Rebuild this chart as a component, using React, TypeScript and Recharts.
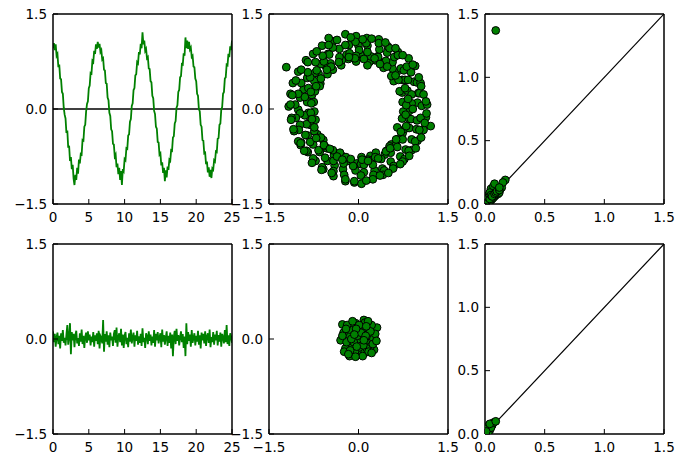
import React from "react";
import { ComposedChart, Line, Scatter, XAxis, YAxis, ReferenceLine } from "recharts";

// noisy cosine, sampled evenly over 0..25
const waveY = [
  0.96, 1.04, 0.93, 1.02, 0.84, 0.87, 0.66, 0.7, 0.48, 0.47,
  0.27, 0.24, 0.02, -0.09, -0.15, -0.38, -0.34, -0.61, -0.58, -0.82,
  -0.76, -0.95, -0.88, -1.1, -1.2, -1.04, -1.12, -0.93, -1.02, -0.8,
  -0.86, -0.71, -0.72, -0.49, -0.5, -0.28, -0.25, -0.04, 0.08, 0.12,
  0.33, 0.37, 0.57, 0.56, 0.76, 0.74, 0.92, 0.87, 1.02, 0.95,
  1.06, 0.97, 1.03, 0.9, 0.93, 0.78, 0.8, 0.62, 0.61, 0.41,
  0.4, 0.18, 0.14, -0.06, -0.11, -0.32, -0.35, -0.55, -0.56, -0.75,
  -0.72, -0.92, -0.86, -1.03, -0.93, -1.12, -0.98, -1.2, -0.95, -0.98,
  -0.79, -0.81, -0.62, -0.63, -0.42, -0.4, -0.2, -0.16, 0.05, 0.09,
  0.3, 0.33, 0.53, 0.55, 0.74, 0.72, 0.9, 0.86, 1.03, 0.96,
  1.21, 1.02, 1.08, 0.92, 0.95, 0.8, 0.82, 0.64, 0.63, 0.44,
  0.42, 0.21, 0.17, -0.03, -0.08, -0.28, -0.31, -0.52, -0.53, -0.72,
  -0.7, -0.89, -0.84, -1.01, -0.93, -1.14, -0.97, -1.08, -0.91, -0.96,
  -0.8, -0.82, -0.65, -0.66, -0.45, -0.43, -0.23, -0.19, 0.02, 0.06,
  0.27, 0.3, 0.5, 0.52, 0.71, 0.7, 0.88, 0.84, 1.13, 0.96,
  1.08, 0.95, 1.06, 0.94, 0.97, 0.82, 0.84, 0.67, 0.66, 0.48,
  0.44, 0.24, 0.21, 0.0, -0.04, -0.25, -0.28, -0.49, -0.5, -0.7,
  -0.69, -0.87, -0.83, -1.0, -0.92, -1.07, -0.96, -1.09, -0.94, -0.96,
  -0.81, -0.83, -0.67, -0.68, -0.47, -0.46, -0.25, -0.23, -0.01, 0.03,
  0.24, 0.27, 0.48, 0.5, 0.7, 0.69, 0.87, 0.82, 0.99, 0.93,
  1.08,
];

// residual noise, same sampling
const noiseY = [
  0.12, -0.05, 0.08, -0.12, 0.03, 0.1, -0.08, 0.05, -0.15, 0.09,
  -0.03, 0.14, -0.06, 0.02, -0.1, 0.07, 0.22, -0.09, 0.04, 0.25,
  -0.24, 0.11, -0.02, 0.08, -0.13, 0.06, 0.13, -0.07, 0.01, -0.11,
  0.09, -0.04, 0.15, -0.08, 0.05, -0.14, 0.03, 0.1, -0.06, 0.12,
  -0.02, 0.07, -0.1, 0.04, -0.05, 0.11, -0.12, 0.06, -0.03, 0.09,
  -0.08, 0.13, -0.15, 0.05, 0.02, -0.07, 0.3, -0.2, 0.08, -0.04,
  0.12, -0.09, 0.06, -0.13, 0.1, -0.02, 0.04, -0.11, 0.08, 0.14,
  -0.06, 0.18, -0.12, 0.03, 0.09, -0.05, 0.16, -0.1, 0.07, -0.14,
  0.05, 0.11, -0.08, 0.02, -0.13, 0.09, -0.04, 0.15, -0.07, 0.03,
  0.1, -0.12, 0.06, -0.03, 0.13, -0.09, 0.04, -0.06, 0.08, -0.11,
  0.17, -0.05, 0.02, -0.14, 0.09, 0.05, -0.08, 0.12, -0.03, 0.07,
  -0.1, 0.04, -0.06, 0.14, -0.12, 0.08, -0.02, 0.11, -0.07, 0.03,
  0.09, -0.13, 0.15, -0.04, 0.06, -0.09, 0.02, 0.12, -0.11, 0.05,
  -0.06, 0.1, -0.15, 0.07, -0.27, 0.04, 0.13, -0.08, 0.16, -0.03,
  0.06, -0.1, 0.03, 0.12, -0.05, 0.08, -0.14, 0.04, -0.27, 0.25,
  -0.08, 0.11, -0.03, 0.07, -0.12, 0.14, -0.06, 0.02, 0.09, -0.1,
  0.05, -0.04, 0.13, -0.09, 0.06, -0.15, 0.1, -0.02, 0.08, -0.07,
  0.12, -0.11, 0.04, 0.09, -0.06, 0.15, -0.13, 0.03, -0.05, 0.11,
  -0.09, 0.07, -0.02, 0.13, -0.1, 0.06, -0.04, 0.1, -0.12, 0.08,
  0.03, -0.07, 0.14, -0.05, 0.22, -0.08, 0.06, -0.11, 0.09, 0.04,
  -0.06,
];

// phase plot of the noisy signal: a ring
const ring: [number, number][] = [
  [0.85, -0.03], [0.74, 0.11], [0.81, 0.07], [0.73, 0.26], [0.82, 0.29], [0.69, 0.28],
  [0.73, 0.46], [0.59, 0.44], [0.64, 0.58], [0.55, 0.52], [0.57, 0.64], [0.41, 0.73],
  [0.42, 0.65], [0.28, 0.77], [0.32, 0.83], [0.18, 0.74], [0.21, 0.83], [0.03, 0.86],
  [-0.05, 0.83], [-0.04, 0.75], [-0.2, 0.86], [-0.17, 0.79], [-0.29, 0.69], [-0.28, 0.77],
  [-0.47, 0.72], [-0.43, 0.62], [-0.55, 0.68], [-0.52, 0.55], [-0.67, 0.56], [-0.64, 0.4],
  [-0.74, 0.44], [-0.65, 0.36], [-0.78, 0.22], [-0.73, 0.28], [-0.86, 0.11], [-0.75, 0.11],
  [-0.84, -0.06], [-0.74, -0.04], [-0.82, -0.21], [-0.72, -0.17], [-0.81, -0.25], [-0.69, -0.4],
  [-0.74, -0.35], [-0.59, -0.49], [-0.63, -0.45], [-0.53, -0.62], [-0.57, -0.58], [-0.41, -0.73],
  [-0.43, -0.65], [-0.28, -0.74], [-0.31, -0.69], [-0.18, -0.82], [-0.21, -0.76], [-0.03, -0.86],
  [0.05, -0.76], [0.04, -0.87], [0.2, -0.74], [0.16, -0.8], [0.29, -0.69], [0.28, -0.76],
  [0.47, -0.66], [0.44, -0.72], [0.55, -0.56], [0.52, -0.59], [0.67, -0.47], [0.63, -0.53],
  [0.74, -0.38], [0.65, -0.29], [0.78, -0.31], [0.73, -0.15], [0.85, -0.16], [0.75, -0.04],
  [0.99, 0.1], [0.89, 0.09], [1.0, 0.25], [0.89, 0.23], [0.93, 0.43], [0.78, 0.46],
  [0.83, 0.46], [0.71, 0.64], [0.76, 0.61], [0.57, 0.74], [0.6, 0.82], [0.46, 0.76],
  [0.48, 0.89], [0.33, 0.82], [0.35, 0.94], [0.15, 1.0], [0.15, 0.9], [0.0, 1.0],
  [0.01, 0.93], [-0.16, 1.01], [-0.15, 0.88], [-0.32, 0.95], [-0.32, 0.82], [-0.51, 0.87],
  [-0.49, 0.86], [-0.63, 0.71], [-0.58, 0.75], [-0.73, 0.57], [-0.7, 0.61], [-0.86, 0.49],
  [-0.81, 0.5], [-0.92, 0.31], [-0.84, 0.33], [-0.98, 0.18], [-0.9, 0.19], [-1.01, -0.01],
  [-0.9, -0.1], [-0.98, -0.07], [-0.87, -0.24], [-0.98, -0.25], [-0.85, -0.42], [-0.89, -0.41],
  [-0.76, -0.56], [-0.81, -0.52], [-0.65, -0.68], [-0.67, -0.65], [-0.52, -0.82], [-0.56, -0.77],
  [-0.4, -0.89], [-0.42, -0.82], [-0.26, -0.95], [-0.25, -0.86], [-0.05, -0.97], [-0.09, -0.9],
  [0.09, -1.0], [0.09, -0.88], [0.27, -0.97], [0.24, -0.88], [0.4, -0.94], [0.38, -0.79],
  [0.54, -0.83], [0.54, -0.69], [0.7, -0.75], [0.65, -0.6], [0.79, -0.64], [0.74, -0.48],
  [0.89, -0.48], [0.85, -0.3], [0.97, -0.32], [0.88, -0.16], [0.98, -0.18], [0.91, 0.0],
  [1.06, 0.05], [1.15, 0.07], [1.02, 0.25], [1.09, 0.23], [0.98, 0.42], [1.04, 0.41],
  [0.88, 0.58], [0.95, 0.68], [0.81, 0.67], [0.84, 0.8], [0.66, 0.9], [0.66, 0.85],
  [0.49, 0.99], [0.52, 0.96], [0.34, 1.1], [0.34, 1.04], [0.14, 1.12], [0.13, 1.04],
  [-0.04, 1.15], [-0.05, 1.06], [-0.22, 1.18], [-0.22, 1.01], [-0.43, 1.07], [-0.43, 0.97],
  [-0.61, 1.0], [-0.6, 0.84], [-0.76, 0.87], [-0.72, 0.74], [-0.88, 0.77], [-0.85, 0.58],
  [-1.01, 0.59], [-0.96, 0.41], [-1.1, 0.41], [-1.01, 0.24], [-1.14, 0.24], [-1.06, 0.07],
  [-1.17, 0.04], [-1.05, -0.14], [-1.12, -0.14], [-1.0, -0.33], [-1.08, -0.35], [-0.96, -0.53],
  [-1.01, -0.51], [-0.85, -0.68], [-0.87, -0.66], [-0.72, -0.82], [-0.76, -0.78], [-0.59, -0.95],
  [-0.61, -0.92], [-0.42, -1.06], [-0.42, -0.98], [-0.22, -1.14], [-0.24, -1.04], [-0.07, -1.16],
  [0.04, -1.05], [0.05, -1.18], [0.25, -1.04], [0.24, -1.11], [0.43, -0.97], [0.41, -1.04],
  [0.59, -0.9], [0.58, -0.94], [0.77, -0.79], [0.74, -0.83], [0.89, -0.65], [0.84, -0.66],
  [0.99, -0.5], [0.95, -0.51], [1.09, -0.33], [1.02, -0.33], [1.13, -0.13], [1.04, -0.14],
  [-1.21, 0.66], [1.21, -0.27], [-0.97, -0.57], [-0.04, 0.84], [0.15, 0.69], [-0.5, 1.12],
  [0.8, 0.06], [1.13, 0.12], [0.83, 0.16], [1.05, 0.36], [0.78, 0.33], [1.01, 0.5],
  [0.67, 0.46], [0.91, 0.7], [0.62, 0.53], [0.74, 0.85], [0.48, 0.67], [0.62, 0.96],
  [0.36, 0.71], [0.45, 1.05], [0.27, 0.8], [0.22, 1.11], [0.09, 0.79], [0.07, 1.1],
  [-0.06, 0.8], [-0.13, 1.13], [-0.16, 0.82], [-0.36, 1.09], [-0.33, 0.74], [-0.5, 1.01],
  [-0.46, 0.67], [-0.7, 0.91], [-0.53, 0.62], [-0.85, 0.74], [-0.63, 0.48], [-0.96, 0.62],
  [-0.71, 0.36], [-1.05, 0.45], [-0.8, 0.27], [-1.11, 0.22], [-0.79, 0.09], [-1.14, 0.07],
  [-0.8, -0.06], [-1.13, -0.17], [-0.78, -0.16], [-1.09, -0.32], [-0.74, -0.29], [-0.97, -0.54],
  [-0.71, -0.46], [-0.91, -0.66], [-0.58, -0.57], [-0.78, -0.85], [-0.48, -0.63], [-0.62, -0.96],
  [-0.36, -0.75], [-0.45, -1.01], [-0.27, -0.8], [-0.22, -1.11], [-0.13, -0.79], [-0.07, -1.14],
  [0.06, -0.8], [0.13, -1.13], [0.16, -0.82], [0.36, -1.05], [0.33, -0.78], [0.5, -1.01],
  [0.46, -0.67], [0.7, -0.87], [0.53, -0.62], [0.85, -0.74], [0.63, -0.48], [0.96, -0.62],
  [0.71, -0.36], [1.05, -0.45], [0.8, -0.27], [1.11, -0.22], [0.79, -0.09], [1.14, -0.07],
];

// phase plot of the residual: a blob at the origin
const blob: [number, number][] = [
  [-0.27, 0.23], [0.09, 0.3], [0.31, 0.18], [0.26, -0.17], [-0.15, -0.27], [-0.3, -0.02],
  [0.0, 0.0], [0.05, 0.08], [-0.08, 0.12], [0.12, -0.05], [-0.1, -0.1], [0.18, 0.05],
  [-0.18, 0.08], [0.02, -0.15], [0.08, 0.2], [-0.05, 0.25], [0.2, -0.12], [-0.22, -0.15],
  [0.15, 0.15], [-0.12, 0.2], [0.03, -0.25], [0.22, 0.22], [-0.25, 0.1], [0.1, -0.22],
  [-0.06, -0.2], [0.25, 0.0], [-0.2, -0.05], [0.06, 0.14], [-0.02, 0.05], [0.14, -0.15],
  [-0.15, 0.15], [0.0, 0.18], [0.28, 0.08], [-0.08, -0.05], [0.08, -0.1], [-0.12, 0.0],
  [0.17, -0.2], [-0.03, -0.12], [0.11, 0.26], [-0.19, 0.22], [0.04, 0.1], [-0.24, -0.2],
  [0.2, 0.12], [-0.1, 0.28], [0.07, -0.27], [0.24, -0.08], [-0.27, 0.05], [0.12, 0.05],
  [-0.05, -0.28], [0.16, 0.28], [-0.14, -0.18], [0.01, 0.22], [0.22, -0.22], [-0.21, 0.16],
  [0.09, -0.02], [-0.04, 0.16], [0.3, -0.03], [-0.17, -0.24], [0.13, 0.2], [-0.07, 0.07],
];

// scale comparison, top row
const compareTop: [number, number][] = [
  [0.0, 0.0], [0.01, 0.0], [0.01, 0.01], [0.02, 0.0], [0.02, 0.02], [0.03, 0.01],
  [0.03, 0.03], [0.04, 0.02], [0.04, 0.05], [0.05, 0.03], [0.05, 0.05], [0.06, 0.04],
  [0.06, 0.07], [0.07, 0.05], [0.07, 0.08], [0.08, 0.06], [0.08, 0.09], [0.09, 0.07],
  [0.09, 0.1], [0.1, 0.09], [0.1, 0.12], [0.11, 0.08], [0.11, 0.1], [0.12, 0.09],
  [0.13, 0.12], [0.14, 0.13], [0.06, 0.1], [0.05, 0.12], [0.07, 0.14], [0.03, 0.07],
  [0.02, 0.05], [0.04, 0.09], [0.01, 0.04], [0.02, 0.03], [0.03, 0.05], [0.04, 0.04],
  [0.05, 0.07], [0.06, 0.06], [0.08, 0.08], [0.09, 0.09], [0.1, 0.1], [0.12, 0.11],
  [0.09, 1.37], [0.08, 0.16], [0.17, 0.19], [0.15, 0.17], [0.12, 0.13],
];

// scale comparison, bottom row
const compareBottom: [number, number][] = [
  [0.02, 0.06], [0.01, 0.03], [0.03, 0.04], [0.02, 0.02], [0.01, 0.01], [0.0, 0.0],
  [0.03, 0.05], [0.05, 0.06], [0.04, 0.03], [0.06, 0.07], [0.01, 0.05], [0.02, 0.04],
  [0.0, 0.02], [0.03, 0.02], [0.05, 0.05], [0.0, 0.04], [0.01, 0.02],
  [0.07, 0.09], [0.04, 0.08], [0.09, 0.1],
];

const diagonal = [0, 1.5];

const timeTicks = [0, 5, 10, 15, 20, 25];
const signalTicks = [-1.5, 0, 1.5];
const scaleTicks = [0, 0.5, 1, 1.5];

const GREEN = "#008000";
const PAD = { top: 10, right: 12, bottom: 26, left: 50 };
// axes get 1px of room each, so the plot box lands exactly on PAD
const MARGIN = { top: PAD.top - 1, right: PAD.right - 1, bottom: PAD.bottom - 1, left: PAD.left - 1 };
const PW = 179;
const PH = 190;
const COLS = [53, 269, 485];
const ROWS = [14, 244];

const toRows = (ys: number[]) =>
  ys.map((y, i) => ({ x: (i * 25) / (ys.length - 1), y }));
const pairRows = (pts: [number, number][]) => pts.map(([x, y]) => ({ x, y }));
const diagRows = diagonal.map((v) => ({ x: v, y: v }));

const decimal = (v: number) => (v < 0 ? "\u2212" : "") + Math.abs(v).toFixed(1);
const whole = (v: number) => String(v);

const tickFont = { fill: "#000", fontSize: 13.5, fontFamily: "DejaVu Sans" };
const frame = { stroke: "#000", strokeWidth: 1.5 };
const tickLn = { stroke: "#000", strokeWidth: 1 };

const dot = (p: any) => (
  <circle cx={p.cx} cy={p.cy} r={3.9} fill={GREEN} stroke="#000" strokeWidth={1} />
);

interface PanelProps {
  col: number;
  row: number;
  xDomain: [number, number];
  xTicks: number[];
  xFmt: (v: number) => string;
  yTicks: number[];
  children: React.ReactNode;
}

function Panel({ col, row, xDomain, xTicks, xFmt, yTicks, children }: PanelProps) {
  const yDomain: [number, number] = [yTicks[0], yTicks[yTicks.length - 1]];
  return (
    <div style={{ position: "absolute", left: COLS[col] - PAD.left, top: ROWS[row] - PAD.top }}>
      <ComposedChart width={PW + PAD.left + PAD.right} height={PH + PAD.top + PAD.bottom} margin={MARGIN}>
        {children}
        <XAxis xAxisId="b" orientation="bottom" type="number" dataKey="x" domain={xDomain}
          allowDataOverflow ticks={xTicks} interval={0} tickFormatter={xFmt} height={1}
          tickSize={-5} tickMargin={13} tick={tickFont} axisLine={frame} tickLine={tickLn} />
        <XAxis xAxisId="t" orientation="top" type="number" dataKey="x" domain={xDomain}
          allowDataOverflow ticks={xTicks} interval={0} height={1}
          tickSize={-5} tick={false} axisLine={frame} tickLine={tickLn} />
        <YAxis yAxisId="l" orientation="left" type="number" domain={yDomain}
          allowDataOverflow ticks={yTicks} interval={0} tickFormatter={decimal} width={1}
          tickSize={-5} tickMargin={11} tick={tickFont} axisLine={frame} tickLine={tickLn} />
        <YAxis yAxisId="r" orientation="right" type="number" domain={yDomain}
          allowDataOverflow ticks={yTicks} interval={0} width={1}
          tickSize={-5} tick={false} axisLine={frame} tickLine={tickLn} />
      </ComposedChart>
    </div>
  );
}

function SignalPanel({ row, ys }: { row: number; ys: number[] }) {
  return (
    <Panel col={0} row={row} xDomain={[0, 25]} xTicks={timeTicks} xFmt={whole} yTicks={signalTicks}>
      <ReferenceLine xAxisId="b" yAxisId="l" y={0} stroke="#000" strokeWidth={1.5} />
      <Line xAxisId="b" yAxisId="l" data={toRows(ys)} dataKey="y" stroke={GREEN}
        strokeWidth={1.8} dot={false} isAnimationActive={false} />
    </Panel>
  );
}

function PhasePanel({ row, pts }: { row: number; pts: [number, number][] }) {
  return (
    <Panel col={1} row={row} xDomain={[-1.5, 1.5]} xTicks={signalTicks} xFmt={decimal} yTicks={signalTicks}>
      <Scatter xAxisId="b" yAxisId="l" data={pairRows(pts)} dataKey="y" shape={dot}
        isAnimationActive={false} />
    </Panel>
  );
}

function ComparePanel({ row, pts }: { row: number; pts: [number, number][] }) {
  return (
    <Panel col={2} row={row} xDomain={[0, 1.5]} xTicks={scaleTicks} xFmt={decimal} yTicks={scaleTicks}>
      <Line xAxisId="b" yAxisId="l" data={diagRows} dataKey="y" stroke="#000"
        strokeWidth={1.2} dot={false} isAnimationActive={false} />
      <Scatter xAxisId="b" yAxisId="l" data={pairRows(pts)} dataKey="y" shape={dot}
        isAnimationActive={false} />
    </Panel>
  );
}

export default function App() {
  return (
    <div style={{ position: "absolute", left: 0, top: 0, width: 696, height: 459, background: "#fff" }}>
      <SignalPanel row={0} ys={waveY} />
      <PhasePanel row={0} pts={ring} />
      <ComparePanel row={0} pts={compareTop} />
      <SignalPanel row={1} ys={noiseY} />
      <PhasePanel row={1} pts={blob} />
      <ComparePanel row={1} pts={compareBottom} />
    </div>
  );
}
